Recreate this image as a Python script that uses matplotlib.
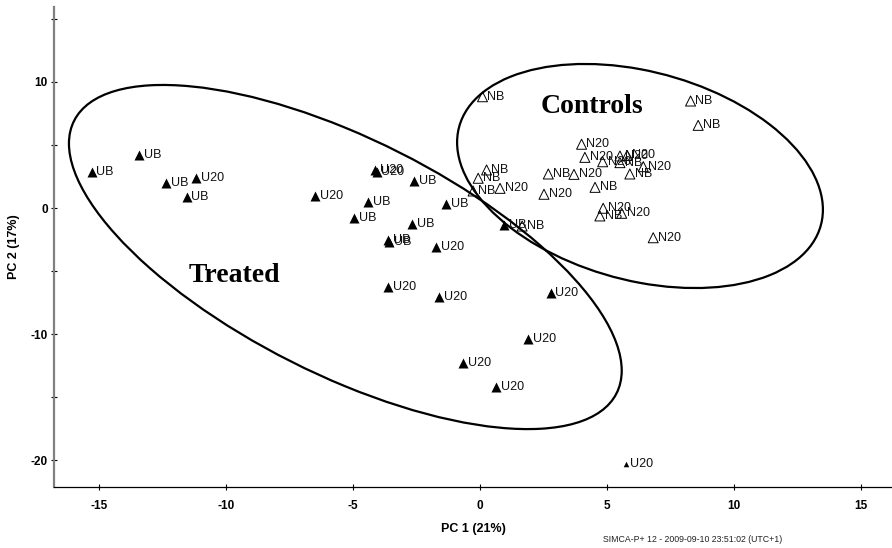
import matplotlib
matplotlib.use('Agg')
import matplotlib.pyplot as plt
from matplotlib.patches import Circle
from matplotlib.transforms import Affine2D
from matplotlib.ticker import FixedLocator, FuncFormatter

plt.rcParams['font.family'] = ['Liberation Sans', 'DejaVu Sans']
plt.rcParams['axes.unicode_minus'] = False

# scores, treated samples (filled triangles)
treated_pc1 = [-15.30, -13.43, -12.37, -11.19, -11.56, -6.51, -4.15, -4.08,
               -2.60, -4.41, -4.97, -1.35, -2.68, -3.62, -3.58, -1.74,
               -3.62, -1.61, 0.93, 2.77, 1.87, -0.69, 0.61]
treated_pc2 = [2.83, 4.21, 2.01, 2.36, 0.90, 0.98, 3.02, 2.83,
               2.14, 0.48, -0.77, 0.34, -1.25, -2.50, -2.67, -3.13,
               -6.25, -7.04, -1.31, -6.77, -10.42, -12.28, -14.18]
treated_lbl = ['UB', 'UB', 'UB', 'U20', 'UB', 'U20', 'U20', 'U20',
               'UB', 'UB', 'UB', 'UB', 'UB', 'UB', 'UB', 'U20',
               'U20', 'U20', 'UB', 'U20', 'U20', 'U20', 'U20']

# the far outlier, plotted with a smaller symbol
outlier_pc1 = [5.72]
outlier_pc2 = [-20.32]
outlier_lbl = ['U20']

# scores, control samples (open triangles)
control_pc1 = [0.09, 8.28, 8.58, 3.99, 4.12, 4.82, 5.50, 5.50,
               5.78, 6.42, 5.89, 0.25, -0.08, -0.28, 0.78, 2.68,
               3.69, 2.51, 4.52, 4.84, 4.71, 5.57, 6.81, 1.65]
control_pc2 = [8.83, 8.49, 6.56, 5.06, 4.02, 3.67, 4.13, 3.60,
               4.17, 3.28, 2.70, 3.02, 2.36, 1.35, 1.56, 2.70,
               2.67, 1.09, 1.64, -0.02, -0.63, -0.42, -2.36, -1.43]
control_lbl = ['NB', 'NB', 'NB', 'N20', 'N20', 'N20', 'N20', 'NB',
               'N20', 'N20', 'NB', 'NB', 'NB', 'NB', 'N20', 'NB',
               'N20', 'N20', 'NB', 'N20', 'NB', 'N20', 'N20', 'NB']

fig = plt.figure(figsize=(8.92, 5.48), dpi=100)
ax = fig.add_axes([0.0605, 0.1113, 0.9395, 0.8759])

ax.scatter(treated_pc1, treated_pc2, marker='^', s=52, c='black',
           linewidths=0, zorder=3)
ax.scatter(outlier_pc1, outlier_pc2, marker='^', s=16, c='black',
           linewidths=0, zorder=3)
ax.scatter(control_pc1, control_pc2, marker='^', s=52, facecolors='none',
           edgecolors='black', linewidths=0.7, zorder=3)

for xs, ys, lbls in [(treated_pc1, treated_pc2, treated_lbl),
                     (outlier_pc1, outlier_pc2, outlier_lbl),
                     (control_pc1, control_pc2, control_lbl)]:
    for x, y, t in zip(xs, ys, lbls):
        ax.annotate(t, (x, y), xytext=(3.5, 0), textcoords='offset points',
                    ha='left', va='center', fontsize=9, color='#111111')

# group ellipses: unit circle mapped by (u, v, centre) in data units
groups = [((-5.31, -3.89), (10.88, -9.01), (0.0, -10.26)),
          ((6.29, 2.54), (7.20, -2.67), (0.0, -8.48))]
for (cx, cy), (ux, uy), (vx, vy) in groups:
    tr = Affine2D([[ux, vx, cx], [uy, vy, cy], [0, 0, 1]]) + ax.transData
    ax.add_patch(Circle((0, 0), 1, fill=False, lw=1.6, ec='black',
                        transform=tr, zorder=2))

ax.text(-9.66, -5.32, 'Treated', family='Liberation Serif', weight='bold',
        fontsize=20, ha='center', va='center')
ax.text(4.39, 8.04, 'Controls', family='Liberation Serif', weight='bold',
        fontsize=20, ha='center', va='center')

ax.set_xlim(-16.78, 16.21)
ax.set_ylim(-22.14, 15.95)
ax.set_xticks(range(-15, 16, 5))
ax.yaxis.set_major_locator(FixedLocator([-20, -15, -10, -5, 0, 5, 10, 15]))
ax.yaxis.set_major_formatter(FuncFormatter(lambda v, p: '%d' % v if v % 10 == 0 else ''))

for s in ['top', 'right']:
    ax.spines[s].set_visible(False)
ax.spines['left'].set_color('#808080')
ax.spines['left'].set_linewidth(1.6)
ax.spines['bottom'].set_linewidth(0.9)

ax.tick_params(axis='x', direction='inout', length=5, width=0.8, pad=7, labelsize=8.5)
ax.tick_params(axis='y', direction='inout', length=5, width=0.8, pad=2, labelsize=8.5)
for lab in ax.get_xticklabels() + ax.get_yticklabels():
    lab.set_fontweight('bold')

ax.set_xlabel('PC 1 (21%)', fontsize=9, weight='bold', labelpad=8)
ax.set_ylabel('PC 2 (17%)', fontsize=9, weight='bold')
ax.yaxis.set_label_coords(-0.041, 0.5)

fig.text(603 / 892, 1 - 540 / 548, 'SIMCA-P+ 12 - 2009-09-10 23:51:02 (UTC+1)',
         fontsize=6.3, ha='left', va='center', color='#222222')

fig.savefig('out.png', dpi=100)
